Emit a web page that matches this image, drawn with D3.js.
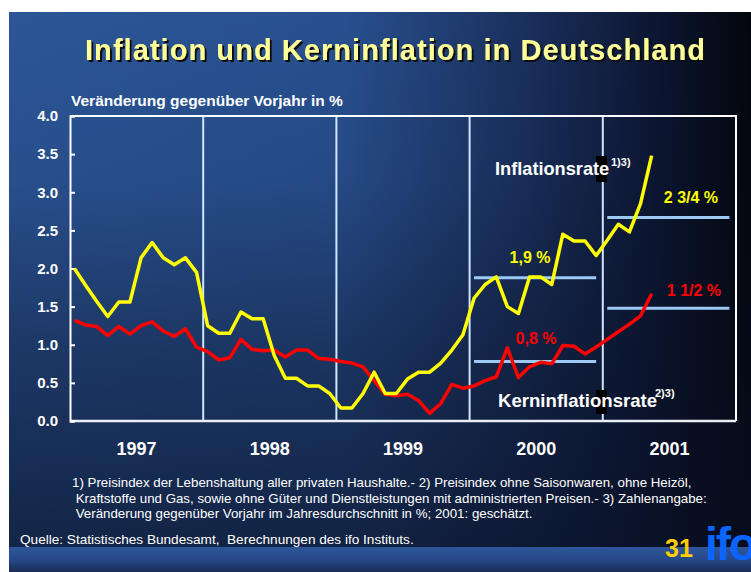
<!DOCTYPE html>
<html><head><meta charset="utf-8">
<script src="https://cdn.jsdelivr.net/npm/d3@7"></script>
<style>
html,body{margin:0;padding:0;background:#fff;}
svg{display:block;}
text{font-family:"Liberation Sans",Arial,sans-serif;}
</style></head>
<body>
<script>
// ---- data ----
const years = ["1997", "1998", "1999", "2000", "2001"];
const yTicks = [0, 0.5, 1, 1.5, 2, 2.5, 3, 3.5, 4];
// monthly values, Jan 1997 – May 2001
const inflation = [
  2.00, 1.78, 1.57, 1.37, 1.56, 1.56, 2.14, 2.34, 2.14, 2.05, 2.14, 1.95,
  1.25, 1.15, 1.15, 1.43, 1.34, 1.34, 0.86, 0.56, 0.56, 0.46, 0.46, 0.36,
  0.17, 0.17, 0.36, 0.64, 0.36, 0.36, 0.55, 0.64, 0.64, 0.76, 0.93, 1.13,
  1.61, 1.79, 1.89, 1.50, 1.41, 1.89, 1.89, 1.79, 2.45, 2.36, 2.36, 2.17,
  2.37, 2.58, 2.48, 2.85, 3.48
];
const coreInflation = [
  1.32, 1.26, 1.24, 1.12, 1.24, 1.14, 1.25, 1.30, 1.18, 1.11, 1.21, 0.97,
  0.91, 0.80, 0.83, 1.07, 0.94, 0.92, 0.93, 0.84, 0.93, 0.93, 0.82, 0.81,
  0.78, 0.76, 0.71, 0.53, 0.35, 0.33, 0.35, 0.27, 0.10, 0.23, 0.48, 0.43,
  0.46, 0.53, 0.58, 0.96, 0.57, 0.71, 0.77, 0.75, 0.99, 0.98, 0.88, 0.97,
  1.07, 1.17, 1.27, 1.38, 1.67
];
const avgYears = [2000, 2001];
const avgInflation = [1.88, 2.67];
const avgCore = [0.78, 1.48];
const avgInflationLabels = ["1,9 %", "2 3/4 %"];
const avgCoreLabels = ["0,8 %", "1 1/2 %"];
const footnotes = [
  "1) Preisindex der Lebenshaltung aller privaten Haushalte.- 2) Preisindex ohne Saisonwaren, ohne Heizöl,",
  " Kraftstoffe und Gas, sowie ohne Güter und Dienstleistungen mit administrierten Preisen.- 3) Zahlenangabe:",
  " Veränderung gegenüber Vorjahr im Jahresdurchschnitt in %; 2001: geschätzt."
];

// ---- setup ----
const W = 751, H = 572;
const svg = d3.select("body").append("svg").attr("width", W).attr("height", H);
const defs = svg.append("defs");

const gH = defs.append("linearGradient").attr("id", "bgH").attr("x1", "0").attr("x2", "1").attr("y1", "0").attr("y2", "0");
[[0, "#2c5698"], [0.45, "#28508f"], [0.7, "#1a2f5c"], [0.88, "#0c1530"], [1, "#03060c"]]
  .forEach(s => gH.append("stop").attr("offset", s[0]).attr("stop-color", s[1]));
const gV = defs.append("linearGradient").attr("id", "bgV").attr("x1", "0").attr("x2", "0").attr("y1", "0").attr("y2", "1");
[[0, 0], [0.3, 0.1], [0.6, 0.42], [1, 0.72]]
  .forEach(s => gV.append("stop").attr("offset", s[0]).attr("stop-color", "#080f22").attr("stop-opacity", s[1]));
const gB = defs.append("linearGradient").attr("id", "bar").attr("x1", "0").attr("x2", "0").attr("y1", "0").attr("y2", "1");
[[0, "#2d579a"], [0.5, "#26488a"], [1, "#1a2c55"]]
  .forEach(s => gB.append("stop").attr("offset", s[0]).attr("stop-color", s[1]));
const sh = defs.append("filter").attr("id", "shadow").attr("x", "-5%").attr("y", "-20%").attr("width", "110%").attr("height", "150%");
sh.append("feDropShadow").attr("dx", 2).attr("dy", 2).attr("stdDeviation", 0.3)
  .attr("flood-color", "#111").attr("flood-opacity", 1);

svg.append("rect").attr("x", 9).attr("y", 12).attr("width", W - 9).attr("height", H - 12).attr("fill", "url(#bgH)");
svg.append("rect").attr("x", 9).attr("y", 12).attr("width", W - 9).attr("height", H - 12).attr("fill", "url(#bgV)");
svg.append("rect").attr("x", 9).attr("y", 547).attr("width", W - 9).attr("height", H - 547).attr("fill", "url(#bar)");

// title
svg.append("text").attr("x", 85).attr("y", 60).attr("font-size", 29).attr("font-weight", "bold")
  .attr("fill", "#ffff99").attr("textLength", 620).attr("lengthAdjust", "spacing")
  .attr("filter", "url(#shadow)").text("Inflation und Kerninflation in Deutschland");

svg.append("text").attr("x", 71).attr("y", 106).attr("font-size", 15.5).attr("font-weight", "bold")
  .attr("fill", "#fff").text("Veränderung gegenüber Vorjahr in %");

// scales
const x = d3.scaleLinear().domain([1997, 2002]).range([70, 736]);
const y = d3.scaleLinear().domain([0, 4]).range([421, 116]);
const mx = i => x(1997 + (i + 0.4) / 12);

// year dividers
svg.append("g").selectAll("line").data([1998, 1999, 2000, 2001]).join("line")
  .attr("x1", d => x(d)).attr("x2", d => x(d)).attr("y1", y(4)).attr("y2", y(0))
  .attr("stroke", "#cfe6ff").attr("stroke-width", 2);

// frame
svg.append("path")
  .attr("d", `M${x(1997)},${y(4)}H${x(2002)}V${y(0)}`)
  .attr("fill", "none").attr("stroke", "#ffffff").attr("stroke-width", 2);
svg.append("line").attr("x1", x(1997)).attr("x2", x(2002)).attr("y1", y(0)).attr("y2", y(0))
  .attr("stroke", "#e8eef6").attr("stroke-width", 2.5);

// y axis
const ya = svg.append("g").attr("transform", `translate(${x(1997)},0)`)
  .call(d3.axisLeft(y).tickValues(yTicks).tickFormat(d3.format(".1f")).tickSize(-5).tickPadding(12));
ya.select(".domain").attr("stroke", "#fff").attr("stroke-width", 2);
ya.selectAll(".tick line").attr("stroke", "#fff").attr("stroke-width", 2);
ya.selectAll(".tick text").attr("fill", "#fff").attr("font-size", 15).attr("font-weight", "bold")
  .attr("font-family", "Liberation Sans, Arial, sans-serif");

// x labels
svg.append("g").selectAll("text").data(years).join("text")
  .attr("x", (d, i) => (x(1997 + i) + x(1998 + i)) / 2).attr("y", 455)
  .attr("text-anchor", "middle").attr("font-size", 18).attr("font-weight", "bold").attr("fill", "#fff")
  .text(d => d);

// average reference lines
const avgData = avgYears.map((yr, i) => ({ yr, v: avgInflation[i] }))
  .concat(avgYears.map((yr, i) => ({ yr, v: avgCore[i] })));
svg.append("g").selectAll("line").data(avgData).join("line")
  .attr("x1", d => x(d.yr + 0.4 / 12)).attr("x2", d => x(d.yr + 11.4 / 12))
  .attr("y1", d => y(d.v)).attr("y2", d => y(d.v))
  .attr("stroke", "#9ccaf5").attr("stroke-width", 3);

// series lines
const line = d3.line().x((d, i) => mx(i)).y(d => y(d));
svg.append("path").datum(coreInflation).attr("d", line).attr("fill", "none")
  .attr("stroke", "#ff0000").attr("stroke-width", 3.5).attr("stroke-linejoin", "round");
svg.append("path").datum(inflation).attr("d", line).attr("fill", "none")
  .attr("stroke", "#ffff00").attr("stroke-width", 3.5).attr("stroke-linejoin", "round");

// average labels
const lab = svg.append("g").attr("font-size", 16).attr("font-weight", "bold");
lab.append("text").attr("x", x(2000) + 40).attr("y", y(avgInflation[0]) - 15).attr("fill", "#ffff00").text(avgInflationLabels[0]);
lab.append("text").attr("x", x(2001) + 61).attr("y", y(avgInflation[1]) - 14).attr("fill", "#ffff00").text(avgInflationLabels[1]);
lab.append("text").attr("x", x(2000) + 46).attr("y", y(avgCore[0]) - 18).attr("fill", "#ff0000").text(avgCoreLabels[0]);
lab.append("text").attr("x", x(2001) + 64).attr("y", y(avgCore[1]) - 12).attr("fill", "#ff0000").text(avgCoreLabels[1]);

// series labels with black boxes
svg.append("rect").attr("x", 596).attr("y", 156).attr("width", 11).attr("height", 26).attr("fill", "#000");
svg.append("rect").attr("x", 596).attr("y", 390).attr("width", 11).attr("height", 24).attr("fill", "#000");
const sl = svg.append("g").attr("fill", "#fff").attr("font-weight", "bold");
sl.append("text").attr("x", 495).attr("y", 174.5).attr("font-size", 18.2).text("Inflationsrate");
sl.append("text").attr("x", 611).attr("y", 166).attr("font-size", 11).text("1)3)");
sl.append("text").attr("x", 498).attr("y", 407).attr("font-size", 18.6).text("Kerninflationsrate");
sl.append("text").attr("x", 655).attr("y", 397).attr("font-size", 11).text("2)3)");

// footnotes
svg.append("g").selectAll("text").data(footnotes).join("text")
  .attr("x", 72).attr("y", (d, i) => 487 + i * 15.7).attr("font-size", 13.3).attr("fill", "#fff")
  .attr("xml:space", "preserve").style("white-space", "pre").text(d => d);
svg.append("text").attr("x", 20).attr("y", 544).attr("font-size", 13.6).attr("fill", "#fff")
  .style("white-space", "pre").text("Quelle: Statistisches Bundesamt,  Berechnungen des ifo Instituts.");

// page number + logo
svg.append("text").attr("x", 665).attr("y", 557).attr("font-size", 25).attr("font-weight", "bold")
  .attr("fill", "#ffcc00").text("31");
svg.append("text").attr("x", 705).attr("y", 560).attr("font-size", 46).attr("font-weight", "bold")
  .attr("fill", "#0a64ff").attr("letter-spacing", -2).text("ifo");
</script>
</body></html>
